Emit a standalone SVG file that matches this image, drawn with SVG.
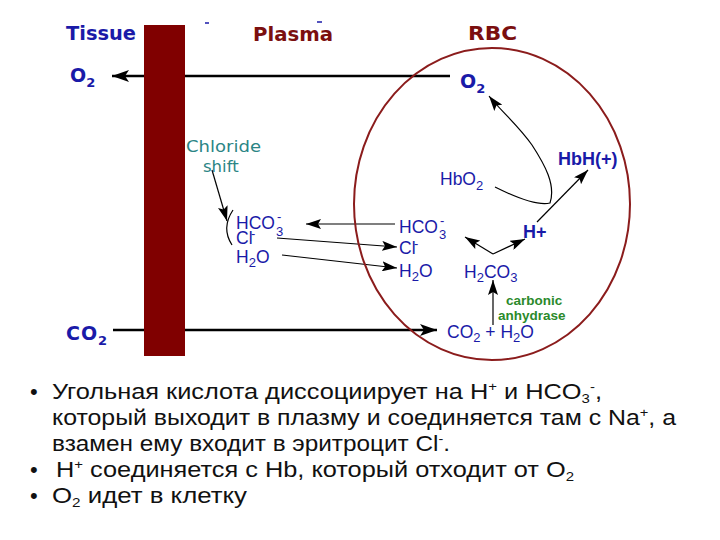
<svg xmlns="http://www.w3.org/2000/svg" width="720" height="540" viewBox="0 0 720 540">
<style>
.hd{font-family:"DejaVu Sans","Liberation Sans",sans-serif;font-weight:bold;font-size:19px}
.blue{fill:#1a1aa8}
.red{fill:#7b0f0f}
.lb{font-family:"Liberation Sans",Arial,sans-serif;font-size:17.5px;fill:#1a1aa8}
.lbb{font-family:"Liberation Sans",Arial,sans-serif;font-size:18px;font-weight:bold;fill:#1a1aa8}
.sub{font-size:13px}
.teal{font-family:"DejaVu Sans",sans-serif;font-size:16.5px;fill:#2b8585}
.green{font-family:"Liberation Sans",Arial,sans-serif;font-size:13.5px;font-weight:bold;fill:#2b8a2b}
.ru{font-family:"Liberation Sans",Arial,sans-serif;font-size:22px;fill:#111}
.thick{stroke:#000;stroke-width:2.5;fill:none}
.thin{stroke:#000;stroke-width:1.2;fill:none}
</style>
<defs>
<marker id="ah" markerUnits="userSpaceOnUse" markerWidth="16" markerHeight="10" refX="15" refY="5" orient="auto">
<path d="M0,0 L15,5 L0,10 L3,5 z" fill="#000"/>
</marker>
<marker id="ahb" markerUnits="userSpaceOnUse" markerWidth="18" markerHeight="12" refX="17" refY="6" orient="auto">
<path d="M0,0 L17,6 L0,12 L4,6 z" fill="#000"/>
</marker>
</defs>
<rect width="720" height="540" fill="#fff"/>

<g id="connectors">
<line class="thick" x1="450" y1="76" x2="112" y2="76" marker-end="url(#ahb)"/>
<line class="thick" x1="113" y1="330" x2="437" y2="330" marker-end="url(#ahb)"/>
<line class="thin" x1="395" y1="224" x2="306" y2="224" marker-end="url(#ah)"/>
<line class="thin" x1="277" y1="238" x2="397" y2="247" marker-end="url(#ah)"/>
<line class="thin" x1="282" y1="255" x2="397" y2="268" marker-end="url(#ah)"/>
<line class="thin" x1="212" y1="170" x2="227" y2="221" marker-end="url(#ah)"/>
<path class="thin" d="M233,210 Q221,228 232,245"/>
<line class="thin" x1="493" y1="254" x2="465" y2="237" marker-end="url(#ah)"/>
<line class="thin" x1="493" y1="254" x2="525" y2="239" marker-end="url(#ah)"/>
<line class="thin" x1="493" y1="325" x2="493" y2="280" marker-end="url(#ah)"/>
<line class="thin" x1="537" y1="222" x2="588" y2="170" marker-end="url(#ah)"/>
<path class="thin" d="M495,187 C515,197 538,206 550,203 C556,185 545,165 532,145 C518,125 500,110 489,96" marker-end="url(#ah)"/>
</g>

<g id="wall"><rect x="144" y="25" width="41" height="331" fill="#800000"/></g>
<g id="rbc"><ellipse cx="492" cy="204" rx="138" ry="156" fill="none" stroke="#8b1c1c" stroke-width="2"/></g>
<g id="marks">
<line x1="205" y1="23" x2="209" y2="23" stroke="#1a1aa8" stroke-width="1.5"/>
<line x1="317" y1="22" x2="322" y2="22" stroke="#1a1aa8" stroke-width="1.5"/>
</g>

<g id="tissue"><text class="hd blue" x="66" y="40" textLength="70" lengthAdjust="spacingAndGlyphs">Tissue</text></g>
<g id="plasma"><text class="hd red" x="253" y="41" textLength="80" lengthAdjust="spacingAndGlyphs">Plasma</text></g>
<g id="rbc-title"><text class="hd red" x="468" y="40" textLength="49" lengthAdjust="spacingAndGlyphs">RBC</text></g>

<g id="o2-tissue"><text class="hd blue" x="70" y="82">O<tspan class="sub" dy="5">2</tspan></text></g>
<g id="o2-rbc"><text class="hd blue" x="460" y="88">O<tspan class="sub" dy="5">2</tspan></text></g>
<g id="co2-tissue"><text class="hd blue" x="66" y="340" font-size="18" letter-spacing="1">CO<tspan class="sub" dy="5">2</tspan></text></g>

<g id="chloride-shift">
<text class="teal" x="186" y="152" textLength="75" lengthAdjust="spacingAndGlyphs">Chloride</text>
<text class="teal" x="203" y="172">shift</text>
</g>

<g id="left-ions">
<text class="lb" x="236" y="229">HCO<tspan x="276" y="236" class="sub" font-size="14">3</tspan><tspan x="277" y="221" class="sub">-</tspan></text>
<text class="lb" x="236" y="244">Cl<tspan x="251" y="238" class="sub">-</tspan></text>
<text class="lb" x="236" y="263">H<tspan class="sub" dy="4">2</tspan><tspan dy="-4">O</tspan></text>
</g>

<g id="mid-ions">
<text class="lb" x="399" y="233">HCO<tspan x="439" y="239" class="sub" font-size="14">3</tspan><tspan x="440" y="225" class="sub">-</tspan></text>
<text class="lb" x="399" y="254">Cl<tspan x="414" y="248" class="sub">-</tspan></text>
<text class="lb" x="399" y="277">H<tspan class="sub" dy="4">2</tspan><tspan dy="-4">O</tspan></text>
</g>

<g id="hbo2"><text class="lb" x="440" y="185">HbO<tspan class="sub" dy="5">2</tspan></text></g>
<g id="hbh"><text class="lbb" x="558" y="165">HbH(+)</text></g>
<g id="hplus"><text class="lbb" x="523" y="238">H+</text></g>
<g id="h2co3"><text class="lb" x="464" y="278">H<tspan class="sub" dy="4">2</tspan><tspan dy="-4">CO</tspan><tspan class="sub" dy="4">3</tspan></text></g>
<g id="co2-h2o"><text class="lb" x="447" y="338">CO<tspan class="sub" dy="4">2</tspan><tspan dy="-4"> + H</tspan><tspan class="sub" dy="4">2</tspan><tspan dy="-4">O</tspan></text></g>
<g id="enzyme">
<text class="green" x="506" y="305">carbonic</text>
<text class="green" x="498" y="320">anhydrase</text>
</g>

<g id="notes">
<text class="ru" x="30" y="399">•</text>
<text class="ru" x="52" y="399" textLength="550" lengthAdjust="spacingAndGlyphs">Угольная кислота диссоциирует на H<tspan font-size="13" dy="-8">+</tspan><tspan dy="8"> и HCO</tspan><tspan font-size="13" dy="4">3</tspan><tspan font-size="13" dy="-12">-</tspan><tspan dy="8">,</tspan></text>
<text class="ru" x="52" y="425" textLength="624" lengthAdjust="spacingAndGlyphs">который выходит в плазму и соединяется там с Na<tspan font-size="13" dy="-8">+</tspan><tspan dy="8">, а</tspan></text>
<text class="ru" x="52" y="451" textLength="398" lengthAdjust="spacingAndGlyphs">взамен ему входит в эритроцит Cl<tspan font-size="13" dy="-8">-</tspan><tspan dy="8">.</tspan></text>
<text class="ru" x="30" y="477">•</text>
<text class="ru" x="56" y="477" textLength="518" lengthAdjust="spacingAndGlyphs">H<tspan font-size="13" dy="-8">+</tspan><tspan dy="8"> соединяется с Hb, который отходит от O</tspan><tspan font-size="13" dy="4">2</tspan></text>
<text class="ru" x="30" y="503">•</text>
<text class="ru" x="52" y="503" textLength="195" lengthAdjust="spacingAndGlyphs">O<tspan font-size="13" dy="4">2</tspan><tspan dy="-4"> идет в клетку</tspan></text>
</g>
</svg>
